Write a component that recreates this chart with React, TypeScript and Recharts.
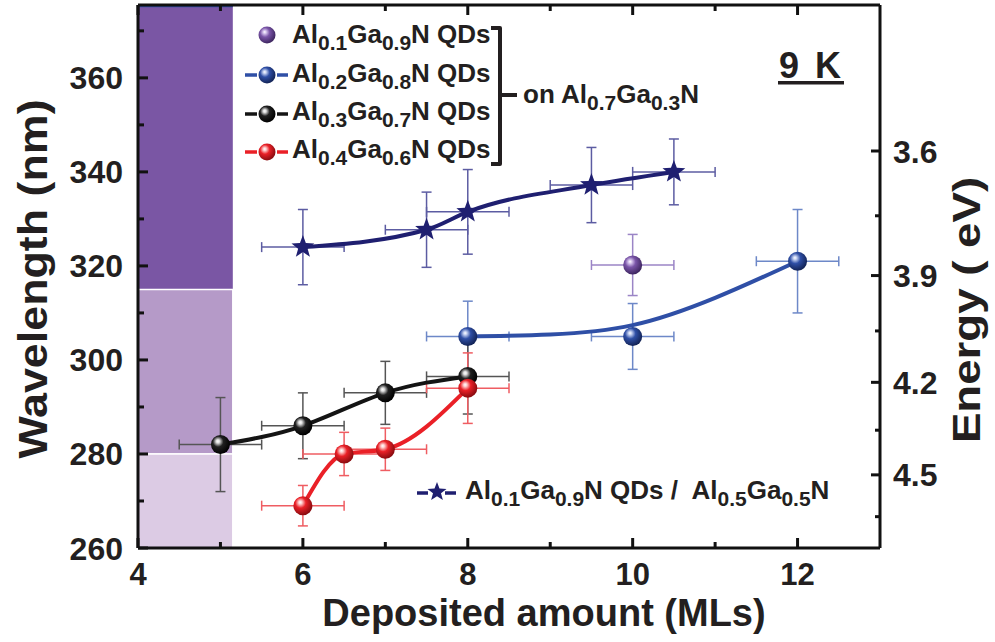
import React from 'react';
import { ComposedChart, XAxis, YAxis, Line, Scatter, ErrorBar, ReferenceArea } from 'recharts';

// ---------- axis ticks ----------
const xTicks = [4, 5, 6, 7, 8, 9, 10, 11, 12];
const xMajor = [4, 6, 8, 10, 12];
const wlTicks = [260, 270, 280, 290, 300, 310, 320, 330, 340, 350, 360, 370];
const wlMajor = [260, 280, 300, 320, 340, 360];
const energyTicks = [3.6, 3.75, 3.9, 4.05, 4.2, 4.35, 4.5, 4.65];
const energyMajor = [3.6, 3.9, 4.2, 4.5];
const HC = 1240; // eV*nm conversion for the energy axis

// ---------- shaded bands ----------
const bandX = [4, 5.15];
const bandEdges = [260, 280, 315, 375.5];

// ---------- series ----------
const starX = [6, 7.5, 8, 9.5, 10.5];
const starY = [324, 327.7, 331.5, 337.2, 340];
const starEx = [0.5, 0.5, 0.5, 0.5, 0.5];
const starEy = [8, 8, 9, 8, 7];

const purpleX = [10];
const purpleY = [320.2];
const purpleEx = [0.5];
const purpleEy = [6.5];

const blueX = [8, 10, 12];
const blueY = [305, 305, 321];
const blueEx = [0.5, 0.5, 0.5];
const blueEy = [7.5, 7, 11];
const blueFitX = [8, 9, 10, 11, 12];
const blueFitY = [305, 305.4, 307.4, 313.2, 321];

const blackX = [5, 6, 7, 8];
const blackY = [282, 286, 293, 296.5];
const blackEx = [0.5, 0.5, 0.5, 0.5];
const blackEy = [10, 7, 6.7, 8];

const redX = [6, 6.5, 7, 8];
const redY = [269, 280, 281, 294];
const redEx = [0.5, 0.5, 0.5, 0.5];
const redEy = [4.3, 4.6, 4.5, 7.5];

const rows = (xs: number[], ys: number[], exs?: number[], eys?: number[]) =>
  xs.map((x, i) => ({ x, y: ys[i], ex: exs ? exs[i] : 0, ey: eys ? eys[i] : 0 }));

const starRows = rows(starX, starY, starEx, starEy);
const purpleRows = rows(purpleX, purpleY, purpleEx, purpleEy);
const blueRows = rows(blueX, blueY, blueEx, blueEy);
const blueFitRows = rows(blueFitX, blueFitY);
const blackRows = rows(blackX, blackY, blackEx, blackEy);
const redRows = rows(redX, redY, redEx, redEy);

const FONT = '"Liberation Sans", Arial, Helvetica, sans-serif';
const INK = '#231f20';

const C = {
  navy: '#1f1f70',
  navyErr: '#5c5ca2',
  blue: '#2f4fa6',
  blueErr: '#6d88c8',
  black: '#141414',
  blackErr: '#555555',
  red: '#ea2027',
  redErr: '#ef5d62',
  bandDark: '#7a56a4',
  bandMid: '#b59ac8',
  bandLight: '#dccbe4',
};

const sphereColors: Record<string, [string, string, string]> = {
  purple: ['#d9c8ef', '#7a55a8', '#3e2660'],
  blue: ['#c6d2f2', '#2f4fa6', '#132457'],
  black: ['#e0e0e0', '#202020', '#000000'],
  red: ['#ffd0d0', '#ea2027', '#8a0c10'],
};

const Defs = () => (
  <defs>
    {Object.keys(sphereColors).map((k) => {
      const [hi, mid, dark] = sphereColors[k];
      return (
        <radialGradient key={k} id={`sph-${k}`} cx="40%" cy="38%" r="62%" fx="36%" fy="32%">
          <stop offset="0%" stopColor="#ffffff" />
          <stop offset="14%" stopColor={hi} />
          <stop offset="45%" stopColor={mid} />
          <stop offset="100%" stopColor={dark} />
        </radialGradient>
      );
    })}
  </defs>
);

const sphere = (key: string, r = 9.5) => (props: any) => {
  const { cx, cy } = props;
  if (cx == null || cy == null) return <g />;
  return <circle cx={cx} cy={cy} r={r} fill={`url(#sph-${key})`} />;
};

const starPath = (cx: number, cy: number, R: number, r: number) => {
  const pts: string[] = [];
  for (let i = 0; i < 10; i++) {
    const a = -Math.PI / 2 + (i * Math.PI) / 5;
    const rr = i % 2 === 0 ? R : r;
    pts.push(`${(cx + rr * Math.cos(a)).toFixed(2)},${(cy + rr * Math.sin(a)).toFixed(2)}`);
  }
  return `M${pts.join('L')}Z`;
};

const StarShape = (props: any) => {
  const { cx, cy } = props;
  if (cx == null || cy == null) return <g />;
  return <path d={starPath(cx, cy, 12, 5)} fill={C.navy} />;
};

const Nothing = () => <g />;

// ---------- ticks ----------
const BottomTick = (props: any) => {
  const { x, y, payload } = props;
  const major = xMajor.includes(payload.value);
  return (
    <g>
      <line x1={x} x2={x} y1={y} y2={y - (major ? 10 : 6)} stroke="#111" strokeWidth={3} />
      {major && (
        <text x={x} y={y + 37} textAnchor="middle" fontFamily={FONT} fontWeight="bold" fontSize={31} fill={INK}>
          {payload.value}
        </text>
      )}
    </g>
  );
};

const TopTick = (props: any) => {
  const { x, y, payload } = props;
  const major = xMajor.includes(payload.value);
  return <line x1={x} x2={x} y1={y} y2={y + (major ? 10 : 6)} stroke="#111" strokeWidth={3} />;
};

const LeftTick = (props: any) => {
  const { x, y, payload } = props;
  const major = wlMajor.includes(payload.value);
  return (
    <g>
      <line x1={x} x2={x + (major ? 10 : 6)} y1={y} y2={y} stroke="#111" strokeWidth={3} />
      {major && (
        <text x={x - 15} y={y} dy="0.36em" textAnchor="end" fontFamily={FONT} fontWeight="bold" fontSize={32} fill={INK}>
          {payload.value}
        </text>
      )}
    </g>
  );
};

const energyOf = (wl: number) => HC / wl;

const RightTick = (props: any) => {
  const { x, y, payload } = props;
  const e = Math.round(energyOf(payload.value) * 100) / 100;
  const major = energyMajor.some((m) => Math.abs(m - e) < 0.001);
  return (
    <g>
      <line x1={x} x2={x - (major ? 9 : 5)} y1={y} y2={y} stroke="#111" strokeWidth={3} />
      {major && (
        <text x={x + 13} y={y} dy="0.36em" textAnchor="start" fontFamily={FONT} fontWeight="bold" fontSize={32} fill={INK}>
          {e.toFixed(1)}
        </text>
      )}
    </g>
  );
};

// ---------- text with subscripts ----------
type Part = [string, boolean];
const Chem = ({ parts, x, y, fs = 26, sub = 21, fill = INK }: { parts: Part[]; x: number; y: number; fs?: number; sub?: number; fill?: string }) => {
  let prevSub = false;
  return (
    <text x={x} y={y} fontFamily={FONT} fontWeight="bold" fontSize={fs} fill={fill} style={{ whiteSpace: 'pre' }}>
      {parts.map(([t, s], i) => {
        const dy = s ? (prevSub ? 0 : 7) : prevSub ? -7 : 0;
        prevSub = s;
        return (
          <tspan key={i} dy={dy} fontSize={s ? sub : fs}>
            {t}
          </tspan>
        );
      })}
    </text>
  );
};

const qd = (a: string, b: string): Part[] => [
  ['Al', false],
  [a, true],
  ['Ga', false],
  [b, true],
  ['N QDs', false],
];

const LegendSphere = ({ x, y, k, dash }: { x: number; y: number; k: string; dash?: string }) => (
  <g>
    {dash && <line x1={245} x2={257} y1={y} y2={y} stroke={dash} strokeWidth={3.5} />}
    {dash && <line x1={277} x2={288} y1={y} y2={y} stroke={dash} strokeWidth={3.5} />}
    <circle cx={x} cy={y} r={8.5} fill={`url(#sph-${k})`} />
  </g>
);

const Overlay = () => (
  <g>
    {/* top legend */}
    <LegendSphere x={267} y={35} k="purple" />
    <Chem parts={qd('0.1', '0.9')} x={292} y={43} />
    <LegendSphere x={267} y={75} k="blue" dash={C.blue} />
    <Chem parts={qd('0.2', '0.8')} x={292} y={82} />
    <LegendSphere x={267} y={114} k="black" dash={C.black} />
    <Chem parts={qd('0.3', '0.7')} x={292} y={120} />
    <LegendSphere x={267} y={152} k="red" dash={C.red} />
    <Chem parts={qd('0.4', '0.6')} x={292} y={158} />
    <path d="M 491 28 L 500 28 L 500 164 L 491 164" fill="none" stroke={INK} strokeWidth={4} strokeLinejoin="round" />
    <line x1={500} x2={517} y1={95} y2={95} stroke={INK} strokeWidth={4} />
    <Chem
      parts={[
        ['on Al', false],
        ['0.7', true],
        ['Ga', false],
        ['0.3', true],
        ['N', false],
      ]}
      x={523}
      y={103}
    />
    {/* temperature */}
    <text x={779} y={78} fontFamily={FONT} fontWeight="bold" fontSize={36} fill={INK}>9</text>
    <text x={815} y={78} fontFamily={FONT} fontWeight="bold" fontSize={36} fill={INK}>K</text>
    <rect x={778} y={81} width={66} height={3.5} fill={INK} />
    {/* bottom legend */}
    <line x1={417} x2={428} y1={493} y2={493} stroke={C.navy} strokeWidth={3.5} />
    <line x1={445} x2={456} y1={493} y2={493} stroke={C.navy} strokeWidth={3.5} />
    <path d={starPath(437, 492, 10, 4.2)} fill={C.navy} />
    <Chem
      parts={[
        ['Al', false],
        ['0.1', true],
        ['Ga', false],
        ['0.9', true],
        ['N QDs /  Al', false],
        ['0.5', true],
        ['Ga', false],
        ['0.5', true],
        ['N', false],
      ]}
      x={465}
      y={499}
    />
    {/* axis titles */}
    <text x={544} y={626} textAnchor="middle" fontFamily={FONT} fontWeight="bold" fontSize={38} fill={INK}>
      Deposited amount (MLs)
    </text>
    <text
      x={0}
      y={0}
      transform="translate(47,279) rotate(-90) scale(1.12,1)"
      textAnchor="middle"
      fontFamily={FONT}
      fontWeight="bold"
      fontSize={40}
      fill={INK}
    >
      Wavelength (nm)
    </text>
    <text
      x={0}
      y={0}
      transform="translate(980,310) rotate(-90) scale(1.17,1)"
      textAnchor="middle"
      fontFamily={FONT}
      fontWeight="bold"
      fontSize={39}
      fill={INK}
      style={{ whiteSpace: 'pre' }}
    >
      Energy ( eV)
    </text>
  </g>
);

export default function App() {
  const wlDomain: [number, number] = [bandEdges[0], bandEdges[3]];
  return (
    <div style={{ position: 'absolute', left: 0, top: 0, width: 995, height: 642, background: '#fff' }}>
      <ComposedChart width={995} height={642} margin={{ top: 4, right: 35, bottom: 34, left: 38 }}>
        <Defs />
        <XAxis
          xAxisId="b"
          dataKey="x"
          type="number"
          domain={[4, 13]}
          allowDataOverflow
          ticks={xTicks}
          interval={0}
          height={60}
          tickLine={false}
          tickSize={0}
          tickMargin={0}
          tick={<BottomTick />}
          axisLine={{ stroke: '#111', strokeWidth: 3 }}
        />
        <XAxis
          xAxisId="t"
          dataKey="x"
          type="number"
          orientation="top"
          domain={[4, 13]}
          allowDataOverflow
          ticks={xTicks}
          interval={0}
          height={1}
          tickLine={false}
          tickSize={0}
          tickMargin={0}
          tick={<TopTick />}
          axisLine={{ stroke: '#111', strokeWidth: 3 }}
        />
        <YAxis
          yAxisId="l"
          dataKey="y"
          type="number"
          domain={wlDomain}
          allowDataOverflow
          ticks={wlTicks}
          interval={0}
          width={100}
          tickLine={false}
          tickSize={0}
          tickMargin={0}
          tick={<LeftTick />}
          axisLine={{ stroke: '#111', strokeWidth: 3 }}
        />
        <YAxis
          yAxisId="r"
          orientation="right"
          type="number"
          domain={wlDomain}
          allowDataOverflow
          ticks={energyTicks.map((e) => HC / e)}
          interval={0}
          width={80}
          tickLine={false}
          tickSize={0}
          tickMargin={0}
          tick={<RightTick />}
          axisLine={{ stroke: '#111', strokeWidth: 3 }}
        />

        <ReferenceArea xAxisId="b" yAxisId="l" x1={bandX[0]} x2={bandX[1]} y1={bandEdges[2]} y2={bandEdges[3]} fill={C.bandDark} fillOpacity={1} stroke="none" />
        <ReferenceArea xAxisId="b" yAxisId="l" x1={bandX[0]} x2={bandX[1]} y1={bandEdges[1]} y2={bandEdges[2]} fill={C.bandMid} fillOpacity={1} stroke="#ffffff" strokeWidth={1.5} />
        <ReferenceArea xAxisId="b" yAxisId="l" x1={bandX[0]} x2={bandX[1]} y1={bandEdges[0]} y2={bandEdges[1]} fill={C.bandLight} fillOpacity={1} stroke="#ffffff" strokeWidth={1.5} />
        <ReferenceArea xAxisId="b" yAxisId="l" x1={bandX[0]} x2={bandX[1]} y1={bandEdges[3] - 0.5} y2={bandEdges[3]} fill={C.blue} fillOpacity={1} stroke="none" />

        {/* error bars (behind lines) */}
        <Scatter xAxisId="b" yAxisId="l" data={starRows} dataKey="y" shape={<Nothing />} isAnimationActive={false}>
          <ErrorBar dataKey="ex" direction="x" width={5} stroke={C.navyErr} strokeWidth={1.5} />
          <ErrorBar dataKey="ey" direction="y" width={5} stroke={C.navyErr} strokeWidth={1.5} />
        </Scatter>
        <Scatter xAxisId="b" yAxisId="l" data={purpleRows} dataKey="y" shape={<Nothing />} isAnimationActive={false}>
          <ErrorBar dataKey="ex" direction="x" width={5} stroke="#9b85c6" strokeWidth={1.5} />
          <ErrorBar dataKey="ey" direction="y" width={5} stroke="#9b85c6" strokeWidth={1.5} />
        </Scatter>
        <Scatter xAxisId="b" yAxisId="l" data={blueRows} dataKey="y" shape={<Nothing />} isAnimationActive={false}>
          <ErrorBar dataKey="ex" direction="x" width={5} stroke={C.blueErr} strokeWidth={1.5} />
          <ErrorBar dataKey="ey" direction="y" width={5} stroke={C.blueErr} strokeWidth={1.5} />
        </Scatter>
        <Scatter xAxisId="b" yAxisId="l" data={blackRows} dataKey="y" shape={<Nothing />} isAnimationActive={false}>
          <ErrorBar dataKey="ex" direction="x" width={5} stroke={C.blackErr} strokeWidth={1.5} />
          <ErrorBar dataKey="ey" direction="y" width={5} stroke={C.blackErr} strokeWidth={1.5} />
        </Scatter>
        <Scatter xAxisId="b" yAxisId="l" data={redRows} dataKey="y" shape={<Nothing />} isAnimationActive={false}>
          <ErrorBar dataKey="ex" direction="x" width={5} stroke={C.redErr} strokeWidth={1.5} />
          <ErrorBar dataKey="ey" direction="y" width={5} stroke={C.redErr} strokeWidth={1.5} />
        </Scatter>

        {/* curves */}
        <Line xAxisId="b" yAxisId="l" data={starRows} dataKey="y" type="monotone" stroke={C.navy} strokeWidth={4} dot={false} activeDot={false} isAnimationActive={false} />
        <Line xAxisId="b" yAxisId="l" data={blueFitRows} dataKey="y" type="natural" stroke={C.blue} strokeWidth={4} dot={false} activeDot={false} isAnimationActive={false} />
        <Line xAxisId="b" yAxisId="l" data={blackRows} dataKey="y" type="natural" stroke={C.black} strokeWidth={4} dot={false} activeDot={false} isAnimationActive={false} />
        <Line xAxisId="b" yAxisId="l" data={redRows} dataKey="y" type="monotone" stroke={C.red} strokeWidth={4} dot={false} activeDot={false} isAnimationActive={false} />

        {/* markers */}
        <Scatter xAxisId="b" yAxisId="l" data={starRows} dataKey="y" shape={StarShape} isAnimationActive={false} />
        <Scatter xAxisId="b" yAxisId="l" data={purpleRows} dataKey="y" shape={sphere('purple')} isAnimationActive={false} />
        <Scatter xAxisId="b" yAxisId="l" data={blueRows} dataKey="y" shape={sphere('blue')} isAnimationActive={false} />
        <Scatter xAxisId="b" yAxisId="l" data={blackRows} dataKey="y" shape={sphere('black')} isAnimationActive={false} />
        <Scatter xAxisId="b" yAxisId="l" data={redRows} dataKey="y" shape={sphere('red')} isAnimationActive={false} />

        <Overlay />
      </ComposedChart>
    </div>
  );
}
